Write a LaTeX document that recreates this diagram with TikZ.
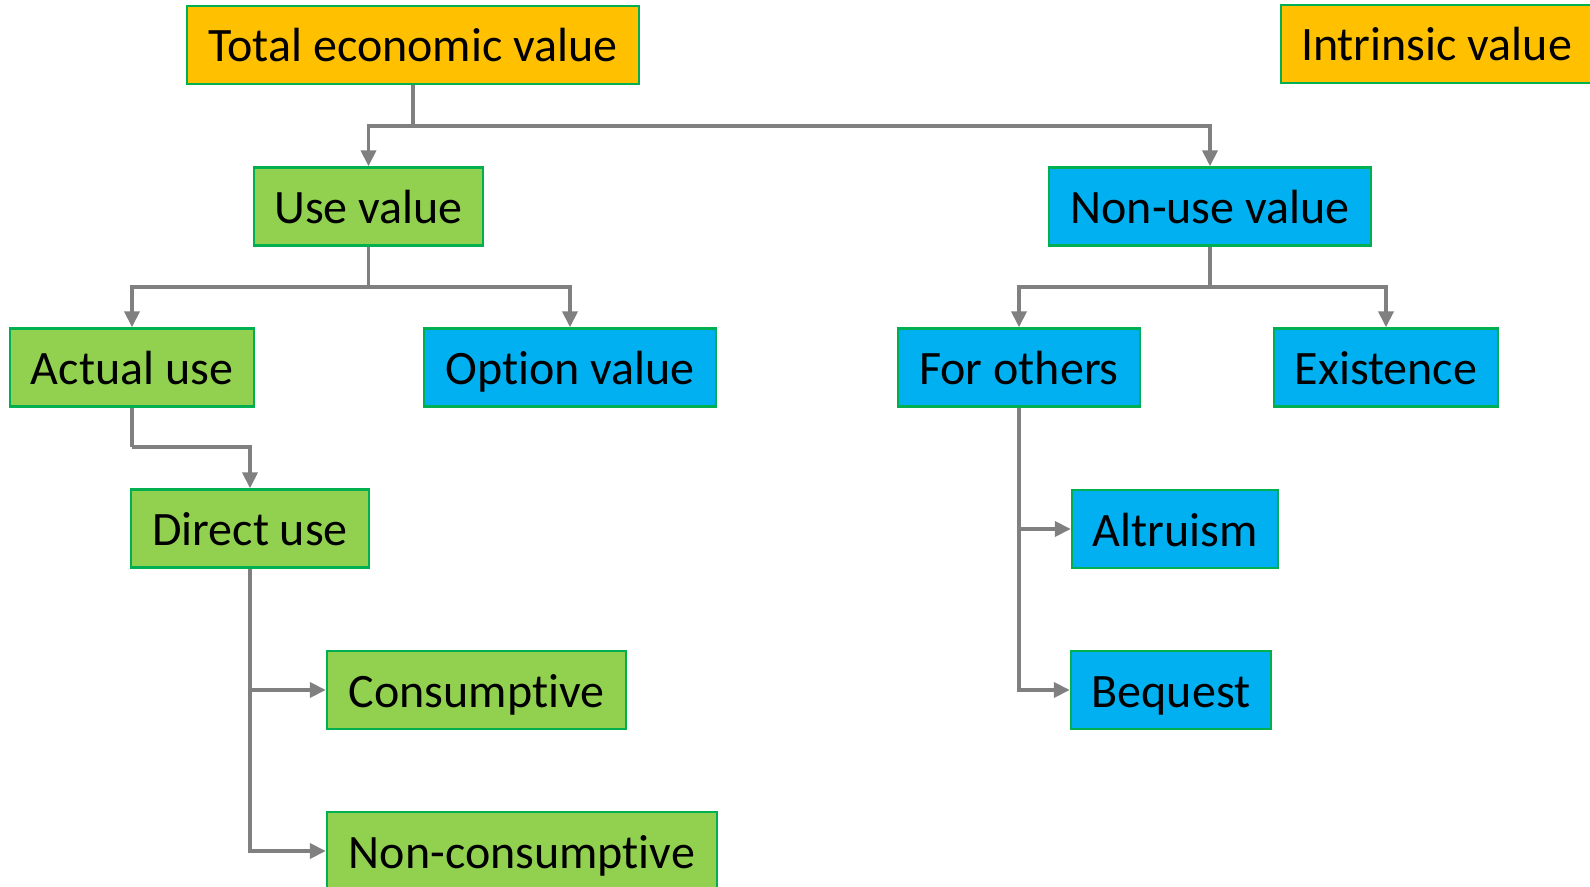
\documentclass[tikz,border=0pt]{standalone}
\usepackage{fontspec}
\setmainfont{Carlito}[Ligatures=NoCommon]
\usetikzlibrary{arrows.meta}
\definecolor{borderg}{RGB}{0,176,80}
\definecolor{fillo}{RGB}{255,192,0}
\definecolor{fillg}{RGB}{146,208,80}
\definecolor{fillb}{RGB}{0,176,240}
\definecolor{linegray}{RGB}{128,128,128}
\tikzset{
  box/.style={draw=borderg, line width=1.2pt, rectangle, inner sep=0pt,
    minimum height=39pt, text height=20pt, text depth=3pt,
    font=\fontsize{24}{28}\selectfont, text=black},
  obox/.style={box, fill=fillo},
  gbox/.style={box, fill=fillg},
  bbox/.style={box, fill=fillb},
  conn/.style={draw=linegray, line width=1.9pt},
  arr/.style={conn, -{Triangle[length=8pt,width=7.5pt]}},
}
\begin{document}
\begin{tikzpicture}[x=0.5pt,y=-0.5pt]
\clip (0,0) rectangle (1590,887);
\fill[white] (0,0) rectangle (1590,887);
% nodes
\node[obox, minimum width=226pt] (tev) at (413,45) {Total economic value};
\node[obox, minimum width=155.5pt] (intr) at (1436.5,44) {Intrinsic value};
\node[gbox, minimum width=114.5pt] (use) at (368.5,206.5) {Use value};
\node[bbox, minimum width=161pt] (nonuse) at (1210,206.5) {Non-use value};
\node[gbox, minimum width=122pt] (actual) at (132,367.5) {Actual use};
\node[bbox, minimum width=146pt] (option) at (570,367.5) {Option value};
\node[bbox, minimum width=121pt] (others) at (1019,367.5) {For others};
\node[bbox, minimum width=112pt] (exist) at (1386,367.5) {Existence};
\node[gbox, minimum width=119pt] (direct) at (250,528.5) {Direct use};
\node[gbox, minimum width=149.5pt] (cons) at (476.5,690) {Consumptive};
\node[gbox, minimum width=195pt] (noncons) at (522,851) {Non-consumptive};
\node[bbox, minimum width=103pt] (altr) at (1175,529) {Altruism};
\node[bbox, minimum width=100pt] (beq) at (1171,690) {Bequest};
% junctions
\coordinate (j1) at (413,126);
\coordinate (j2) at (368.5,287);
\coordinate (j3) at (1210,287);
\coordinate (j4) at (132,447);
% connectors
\draw[conn] (tev.south) -- (j1);
\draw[arr] (j1) -| (use.north);
\draw[arr] (j1) -| (nonuse.north);
\draw[conn] (use.south) -- (j2);
\draw[arr] (j2) -| (actual.north);
\draw[arr] (j2) -| (option.north);
\draw[conn] (nonuse.south) -- (j3);
\draw[arr] (j3) -| (others.north);
\draw[arr] (j3) -| (exist.north);
\draw[conn] (actual.south) -- (j4);
\draw[arr] (j4) -| (direct.north);
\draw[arr] (direct.south) |- (cons.west);
\draw[arr] (direct.south) |- (noncons.west);
\draw[arr] (others.south) |- (altr.west);
\draw[arr] (others.south) |- (beq.west);
\end{tikzpicture}
\end{document}
